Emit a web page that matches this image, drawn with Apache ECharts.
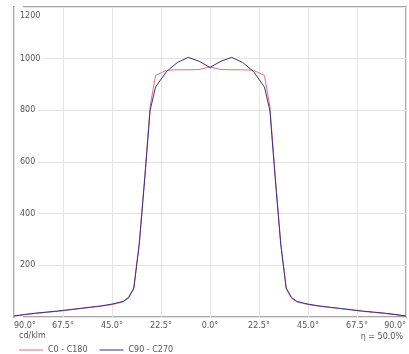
<!DOCTYPE html>
<html><head><meta charset="utf-8">
<script src="https://cdn.jsdelivr.net/npm/echarts@6/dist/echarts.min.js"></script>
<style>html,body{margin:0;padding:0;background:#fff}#c{width:409px;height:354px}</style>
</head><body><div id="c"></div>
<script>
const angles = [-90,-85,-80,-75,-70,-65,-60,-55,-50,-45,-42.5,-40,-37.5,-35,-32.5,-30,-27.5,-25,-20,-15,-10,-5,0,5,10,15,20,25,27.5,30,32.5,35,37.5,40,42.5,45,50,55,60,65,70,75,80,85,90];
const c0_c180 = [3,9,14,18,22,27,32,37,42,48,53,58,72,108,285,540,815,935,955,957,957,958,968,958,957,957,955,935,815,540,285,108,72,58,53,48,42,37,32,27,22,18,14,9,3];
const c90_c270 = [4,10,15,19,23,28,33,38,43,50,55,60,75,112,280,530,800,890,950,985,1005,990,966,990,1005,985,950,890,800,530,280,112,75,60,55,50,43,38,33,28,23,19,15,10,4];
const yTicks = [0,200,400,600,800,1000,1200];
const seriesNames = ['C0 - C180','C90 - C270'];
const unitLabel = 'cd/klm';
const etaLabel = 'η = 50.0%';

const chart = echarts.init(document.getElementById('c'));
const pair = arr => angles.map((a,i)=>[a,arr[i]]);
const lab = {fontFamily:'DejaVu Sans', fontSize:8, color:'#555'};
chart.setOption({
  animation:false,
  grid:{left:14,right:2,top:7,bottom:37,show:true,borderColor:'#a8a8a8',borderWidth:2,backgroundColor:'#fff'},
  xAxis:{type:'value',min:-90,max:90,interval:22.5,
    axisLine:{show:false},axisTick:{show:false},
    splitLine:{show:true,lineStyle:{color:'#e4e4e4',width:1}},
    axisLabel:Object.assign({margin:5,alignMinLabel:'left',alignMaxLabel:'right',
      formatter:v=>Math.abs(v).toFixed(1)+'°'},lab)},
  yAxis:{type:'value',min:0,max:1200,interval:200,
    axisLine:{show:false},axisTick:{show:false},
    splitLine:{show:true,lineStyle:{color:'#e4e4e4',width:1}},
    axisLabel:Object.assign({inside:true,margin:1,backgroundColor:'#fff',padding:[1,3,1,5],
      formatter:v=>(v===0||v===1200)?'':String(v)},lab)},
  legend:{left:14,top:341,itemWidth:24,itemHeight:1,itemGap:12,icon:'rect',
    textStyle:Object.assign({},lab),data:seriesNames},
  graphic:[
    {type:'text',left:20,top:12,style:{text:String(yTicks[6]),font:'8px DejaVu Sans',fill:'#555'}},
    {type:'text',left:19,top:332,style:{text:unitLabel,font:'8px DejaVu Sans',fill:'#555'}},
    {type:'text',right:6,top:333,style:{text:etaLabel,font:'8px DejaVu Sans',fill:'#555'}}
  ],
  series:[
    {name:seriesNames[0],type:'line',data:pair(c0_c180),showSymbol:false,
     lineStyle:{color:'#e0707a',width:1},itemStyle:{color:'#e0707a'}},
    {name:seriesNames[1],type:'line',data:pair(c90_c270),showSymbol:false,
     lineStyle:{color:'#3a2f8c',width:1},itemStyle:{color:'#3a2f8c'}}
  ]
});
</script></body></html>
